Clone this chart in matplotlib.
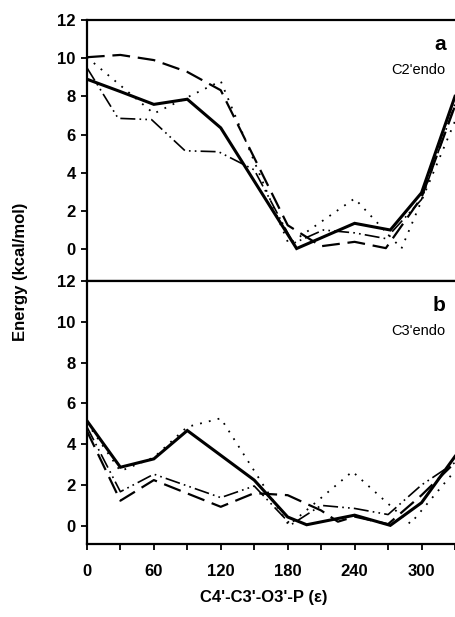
import matplotlib
matplotlib.use("Agg")
import matplotlib.pyplot as plt

plt.rcParams['font.family'] = ['Liberation Sans', 'DejaVu Sans']

# Torsion angle epsilon (deg) and energies (kcal/mol), panel a: C2'endo
a_solid_x = [0, 30, 60, 90, 120, 188, 240, 272, 300, 330]
a_solid_y = [8.9, 8.25, 7.58, 7.85, 6.35, 0.03, 1.35, 1.0, 2.95, 8.0]
a_dash_x = [0, 30, 60, 90, 120, 180, 210, 240, 268, 300, 330]
a_dash_y = [10.05, 10.17, 9.9, 9.28, 8.32, 1.25, 0.15, 0.38, 0.05, 2.7, 7.5]
a_dot_x = [0, 60, 120, 181, 240, 282, 330]
a_dot_y = [10.05, 7.1, 8.8, 0.25, 2.65, 0.03, 6.7]
a_dd_x = [0, 28, 58, 88, 118, 150, 185, 212, 240, 268, 300, 330]
a_dd_y = [9.5, 6.85, 6.78, 5.15, 5.1, 4.15, 0.3, 1.0, 0.85, 0.55, 2.6, 7.6]

# panel b: C3'endo
b_solid_x = [0, 30, 60, 90, 150, 180, 197, 240, 272, 300, 330]
b_solid_y = [5.15, 2.87, 3.28, 4.67, 2.24, 0.43, 0.05, 0.52, 0.02, 1.13, 3.4]
b_dash_x = [0, 30, 60, 120, 150, 180, 210, 225, 240, 270, 300, 330]
b_dash_y = [4.65, 1.23, 2.24, 0.93, 1.6, 1.5, 0.75, 0.2, 0.45, 0.08, 1.5, 3.1]
b_dot_x = [0, 30, 60, 90, 120, 181, 238, 290, 330]
b_dot_y = [5.05, 2.68, 3.35, 4.85, 5.27, 0.03, 2.66, 0.1, 2.7]
b_dd_x = [0, 30, 60, 120, 150, 183, 210, 240, 270, 300, 330]
b_dd_y = [4.85, 1.67, 2.53, 1.38, 1.95, 0.05, 1.0, 0.85, 0.55, 2.0, 3.1]

x_ticks = list(range(0, 331, 30))
x_labels = [str(t) if t % 60 == 0 else '' for t in x_ticks]
y_ticks = list(range(0, 13, 2))

fig = plt.figure(figsize=(4.55, 6.17), dpi=100)
ax_a = fig.add_axes([0.191, 0.5446, 0.809, 0.4230])
ax_b = fig.add_axes([0.191, 0.1191, 0.809, 0.4254])

panels = [
    (ax_a, a_solid_x, a_solid_y, a_dash_x, a_dash_y, a_dot_x, a_dot_y, a_dd_x, a_dd_y,
     (-1.67, 12), 'a', "C2'endo"),
    (ax_b, b_solid_x, b_solid_y, b_dash_x, b_dash_y, b_dot_x, b_dot_y, b_dd_x, b_dd_y,
     (-0.87, 12), 'b', "C3'endo"),
]

for ax, sx, sy, lx, ly, ox, oy, dx, dy, ylim, tag, name in panels:
    ax.plot(sx, sy, color='black', lw=2.2, solid_joinstyle='miter')
    ax.plot(lx, ly, color='black', lw=1.6, dashes=(8, 3.5))
    ax.plot(ox, oy, color='black', lw=1.3, dashes=(1, 4))
    ax.plot(dx, dy, color='black', lw=1.2, dashes=(9, 2.5, 1, 2.5, 1, 2.5))
    ax.set_xlim(0, 324)
    ax.set_ylim(*ylim)
    ax.set_yticks(y_ticks)
    ax.set_xticks(x_ticks)
    ax.spines['right'].set_visible(False)
    for s in ['left', 'bottom', 'top']:
        ax.spines[s].set_linewidth(1.6)
    ax.tick_params(direction='out', length=4, width=1.3, labelsize=12, pad=4)
    for lab in ax.get_yticklabels():
        lab.set_fontweight('bold')
    ax.text(0.975, 0.905, tag, transform=ax.transAxes, ha='right', va='center',
            fontsize=15, fontweight='bold')
    ax.text(0.975, 0.81, name, transform=ax.transAxes, ha='right', va='center',
            fontsize=10.5)

ax_a.set_xticklabels([])
ax_b.set_xticklabels(x_labels, fontweight='bold')
ax_b.tick_params(axis='x', pad=10.5)

fig.text(0.58, 0.031, "C4'-C3'-O3'-P (\u03b5)", ha='center', va='center',
         fontsize=12, fontweight='bold')
fig.text(0.045, 0.56, 'Energy (kcal/mol)', ha='center', va='center',
         rotation=90, fontsize=12, fontweight='bold')

fig.savefig('out.png', dpi=100)
